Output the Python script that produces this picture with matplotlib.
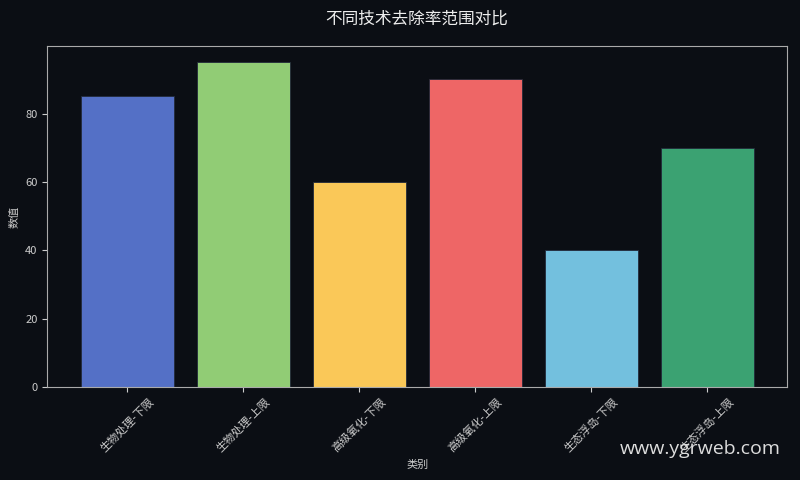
import matplotlib
matplotlib.use("Agg")
import matplotlib.pyplot as plt

plt.rcParams['font.family'] = ['Noto Sans CJK SC', 'DejaVu Sans']
plt.rcParams['axes.unicode_minus'] = False

categories = ["生物处理-下限", "生物处理-上限", "高级氧化-下限", "高级氧化-上限", "生态浮岛-下限", "生态浮岛-上限"]
values = [85, 95, 60, 90, 40, 70]
colors = ["#5470c6", "#91cc75", "#fac858", "#ee6666", "#73c0de", "#3ba272"]

bg = "#0b0e14"
fg = "#cccccc"

fig = plt.figure(figsize=(8, 4.8), dpi=100, facecolor=bg)
ax = fig.add_axes([0.059, 0.194, 0.925, 0.710])
ax.set_facecolor(bg)

x = list(range(len(categories)))
ax.bar(x, values, width=0.8, color=colors, edgecolor="#222a3a", linewidth=0.6)
ax.set_xticks(x)
ax.set_xticklabels(categories, rotation=45, fontsize=8, color=fg)
ax.tick_params(axis='y', labelsize=8, colors=fg)
ax.tick_params(axis='x', colors=fg)
for s in ax.spines.values():
    s.set_color("#aaaaaa")
ax.set_xlabel("类别", fontsize=8, color=fg)
ax.set_ylabel("数值", fontsize=8, color=fg)
ax.set_title("不同技术去除率范围对比", fontsize=12, color="#eeeeee", pad=16)
fig.text(0.976, 0.065, "www.ygrweb.com", ha="right", va="center", fontsize=14,
         color="#dddddd", family=["Open Sans", "DejaVu Sans"])

fig.savefig("out.png", dpi=100, facecolor=bg)
